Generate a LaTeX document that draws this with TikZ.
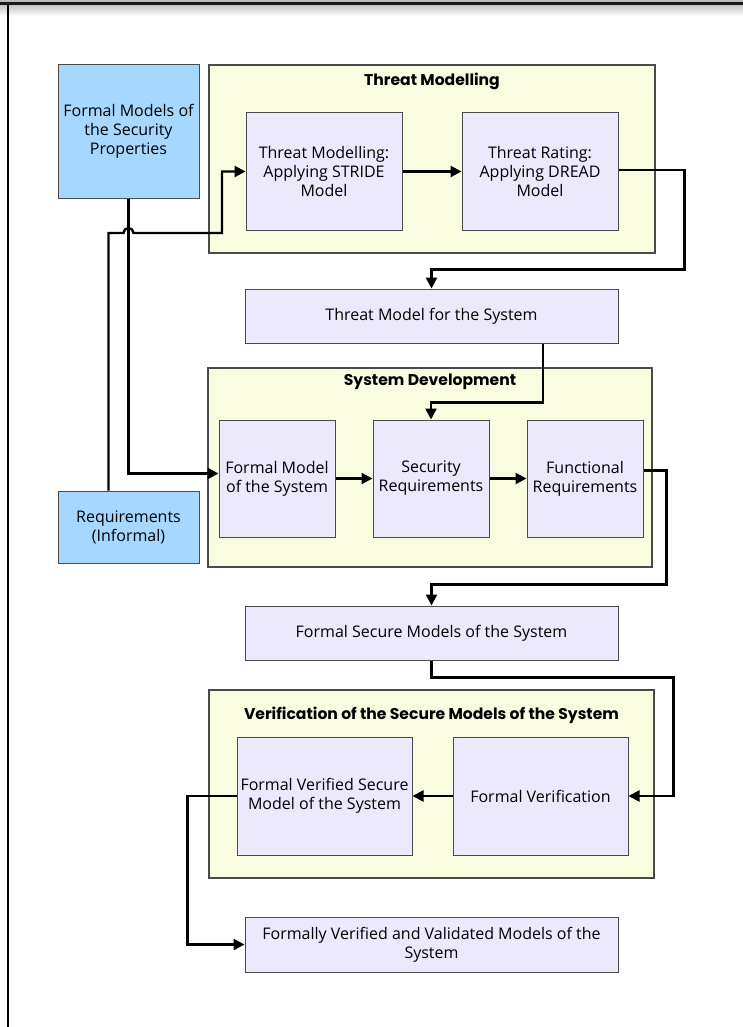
\documentclass[tikz,border=0pt]{standalone}
\usepackage{fontspec}
\setmainfont{Open Sans}
\newfontfamily\titlefont{Poppins}
\usepackage{xcolor}
\usepackage{tikz}
\usetikzlibrary{arrows.meta, positioning, calc}

\definecolor{reqblue}{HTML}{A6D8FF}
\definecolor{stagelav}{HTML}{ECE9FD}
\definecolor{groupyel}{HTML}{FAFCE0}
\definecolor{edgegray}{HTML}{4A4A4A}

\begin{document}
\begin{tikzpicture}[
  x=1pt, y=-1pt,
  font=\fontsize{16}{19}\selectfont,
  group/.style={draw=edgegray, line width=1.1pt, fill=groupyel, inner sep=0pt},
  grouptitle/.style={font=\titlefont\bfseries\fontsize{15.6}{18}\selectfont},
  stage/.style={draw=edgegray, line width=1pt, fill=stagelav, align=center,
                inner sep=1pt, minimum width=116pt, minimum height=117pt},
  wide/.style={stage, minimum width=373pt, minimum height=54pt},
  input/.style={stage, fill=reqblue, minimum width=141pt},
  arr/.style={-{Triangle[length=11pt, width=11pt]}, line width=2.4pt}
]
\useasboundingbox (0,0) rectangle (743,1027);
% page frame
\fill[gray!55] (0,0) rectangle (743,2);
\fill[black!90] (0,2) rectangle (743,5.5);
\shade[top color=black!22, bottom color=white] (0,5.5) rectangle (743,16);
\draw[line width=2pt] (7.5,5) -- (7.5,1027);

% groups
\node[group, minimum width=446pt, minimum height=188pt] (tmG) at (432,159) {};
\node[group, minimum width=444pt, minimum height=199pt] (sdG) at (430,467.5) {};
\node[group, minimum width=445pt, minimum height=188pt] (vfG) at (431.5,784) {};
\node[grouptitle] (tmT) at ([yshift=-17pt]tmG.north) {Threat Modelling};
\node[grouptitle] (sdT) at ([yshift=-14pt]sdG.north) {System Development};
\node[grouptitle] (vfT) at ([yshift=-26pt]vfG.north) {Verification of the Secure Models of the System};

% inputs
\node[input, minimum height=133pt] (fms) at (128.5,131.5) {Formal Models of\\the Security\\Properties};
\node[input, minimum height=72pt] (req) at (128.5,527) {Requirements\\(Informal)};

% stages
\node[stage, minimum width=156pt] (stride) at (324,171.5) {Threat Modelling:\\Applying STRIDE\\Model};
\node[stage, minimum width=156pt] (dread) at (540,171.5) {Threat Rating:\\Applying DREAD\\Model};
\node[wide] (tmsys) at (431.5,316) {Threat Model for the System};
\node[stage] (fmsys) at (277,478.5) {Formal Model\\of the System};
\node[stage] (secreq) at (431,478.5) {Security\\Requirements};
\node[stage] (funreq) at (585,478.5) {Functional\\Requirements};
\node[wide] (fsm) at (431.5,633) {Formal Secure Models of the System};
\node[stage, minimum width=175pt, minimum height=118pt] (fvsm) at (324.5,796) {Formal Verified Secure\\Model of the System};
\node[stage, minimum width=175pt, minimum height=118pt] (fver) at (540.5,796) {Formal Verification};
\node[wide, minimum height=55pt] (final) at (431.5,944.5) {Formally Verified and Validated Models of the\\System};

% connectors
\coordinate (hop) at (fms.south |- 0,233);
\draw[arr] ([xshift=-20pt]req.north) |- ([xshift=-5pt]hop)
  arc[start angle=180, end angle=0, radius=5pt] -- ++(88.5,0) |- (stride.west);
\draw[arr] (fms.south) |- ([yshift=5pt]fmsys.west);
\draw[arr] (stride) -- (dread);
\draw[arr] ([yshift=1.5pt]dread.east) -- ++(66,0) |- ([yshift=19pt]tmsys.north) -- (tmsys.north);
\draw[arr] ([xshift=111.5pt]tmsys.south) |- ([yshift=17pt]secreq.north) -- (secreq.north);
\draw[arr] (fmsys) -- (secreq);
\draw[arr] (secreq) -- (funreq);
\draw[arr] ([yshift=8pt]funreq.east) -- ++(23,0) |- ([yshift=21pt]fsm.north) -- (fsm.north);
\draw[arr] (fsm.south) -- ++(0,17) -| ([xshift=45pt]fver.east) -- (fver.east);
\draw[arr] (fver) -- (fvsm);
\draw[arr] (fvsm.west) -- ++(-49,0) |- (final.west);
\end{tikzpicture}
\end{document}
